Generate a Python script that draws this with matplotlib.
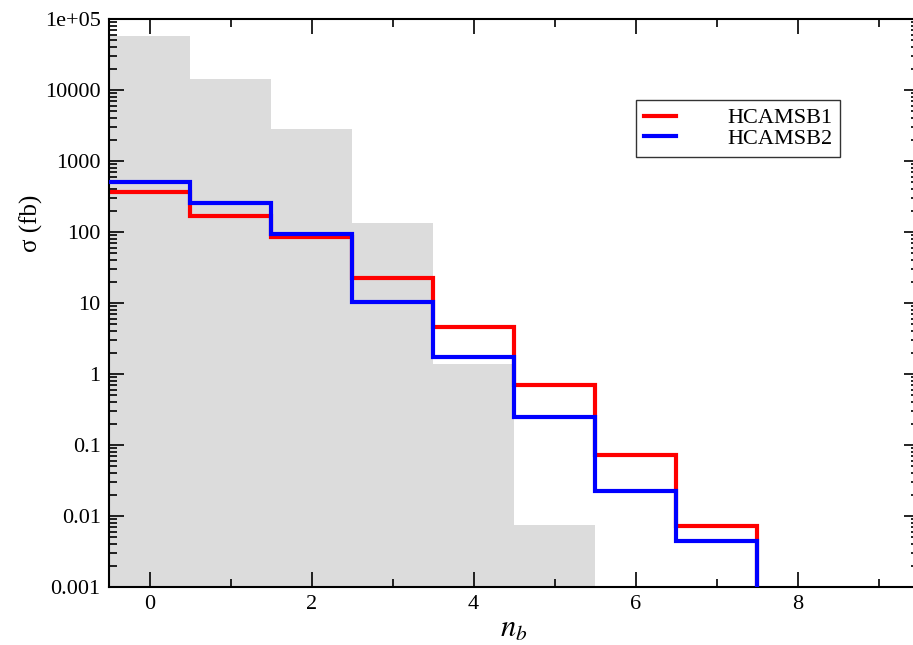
import numpy as np
import matplotlib
matplotlib.use("Agg")
import matplotlib.pyplot as plt
from matplotlib.ticker import FixedLocator, LogLocator, NullFormatter

plt.rcParams['font.family'] = ['Liberation Serif', 'DejaVu Serif']
plt.rcParams['mathtext.fontset'] = 'stix'

# bin edges for n_b = 0..7
edges = np.arange(-0.5, 8.5, 1.0)

# background (gray) histogram, n_b = 0..5
bkg = [57000, 14300, 2800, 135, 1.37, 0.0075]
red = [362, 168, 86, 22.3, 4.6, 0.69, 0.073, 0.0072]
blue = [500, 259, 94, 10.4, 1.73, 0.245, 0.0227, 0.0045]

ytick_vals = [1e-3, 1e-2, 1e-1, 1, 10, 100, 1000, 10000, 1e5]
ytick_labels = ['0.001', '0.01', '0.1', '1', '10', '100', '1000', '10000', '1e+05']

fig = plt.figure(figsize=(9.13, 6.45), dpi=100)
ax = fig.add_axes([109/913, 1-587/645, (919-109)/913, (587-19)/645])

ax.stairs(bkg, edges[:len(bkg)+1], fill=True, color='#dcdcdc', baseline=1e-9, zorder=1)

# step lines: no left edge, drop to the floor after the last bin
tail_edges = np.append(edges, edges[-1] + 1)
ax.stairs(red + [1e-9], tail_edges, color='#ff0000', lw=3, baseline=None, zorder=2, label='HCAMSB1')
ax.stairs(blue + [1e-9], tail_edges, color='#0000ff', lw=3, baseline=None, zorder=3, label='HCAMSB2')

ax.set_yscale('log')
ax.set_xlim(-0.5, 9.5)
ax.set_ylim(1e-3, 1e5)

ax.xaxis.set_major_locator(FixedLocator([0, 2, 4, 6, 8]))
ax.xaxis.set_minor_locator(FixedLocator([1, 3, 5, 7, 9]))
ax.set_xticklabels(['0', '2', '4', '6', '8'])
ax.yaxis.set_major_locator(FixedLocator(ytick_vals))
ax.set_yticklabels(ytick_labels)
ax.yaxis.set_minor_locator(LogLocator(base=10, subs=np.arange(2, 10), numticks=20))
ax.yaxis.set_minor_formatter(NullFormatter())

ax.tick_params(which='both', direction='in', top=True, right=True, width=1.2, labelsize=16)
ax.tick_params(which='major', length=11)
ax.tick_params(which='minor', length=6)
ax.tick_params(axis='x', pad=6)
ax.tick_params(axis='y', pad=6)
for s in ax.spines.values():
    s.set_linewidth(1.5)

ax.set_xlabel('$n_b$', fontsize=22, labelpad=0)
ax.set_ylabel('σ (fb)', fontsize=18)
ax.yaxis.set_label_coords(-0.082, 0.64)

leg = ax.legend(loc='upper left', bbox_to_anchor=(636/913, 1-100/645),
                bbox_transform=fig.transFigure,
                fontsize=16, frameon=True, fancybox=False, edgecolor='black',
                handlelength=1.45, handletextpad=2.3, borderpad=0.35,
                labelspacing=0.0, borderaxespad=0)
leg.get_frame().set_linewidth(1.0)
for h in leg.legend_handles:
    h.set_linewidth(3)

fig.savefig('out.png', dpi=100)
